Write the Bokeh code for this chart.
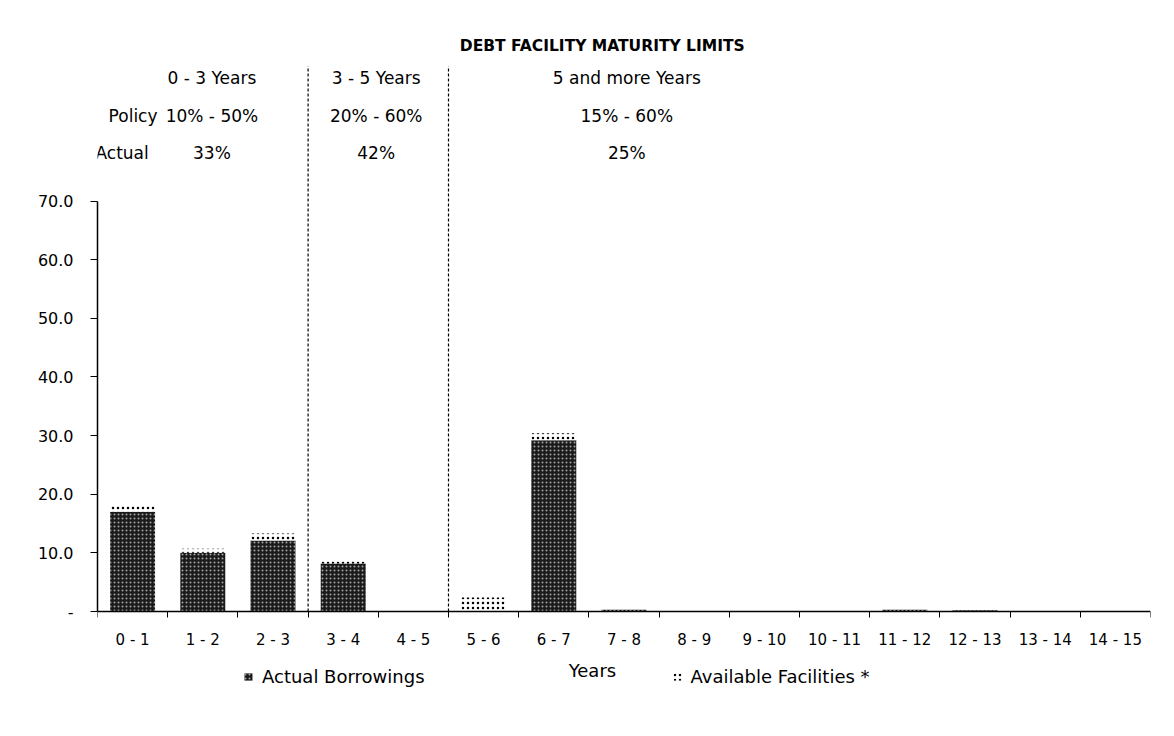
from bokeh.plotting import figure
from bokeh.models import (ColumnDataSource, Range1d, FixedTicker, PrintfTickFormatter,
                          Legend, LegendItem)
from bokeh.core.properties import value
from bokeh.embed import file_html
from bokeh.resources import INLINE

# Maturity buckets (years) and amounts maturing in each
periods = ["0 - 1", "1 - 2", "2 - 3", "3 - 4", "4 - 5", "5 - 6", "6 - 7", "7 - 8",
           "8 - 9", "9 - 10", "10 - 11", "11 - 12", "12 - 13", "13 - 14", "14 - 15"]
actual_borrowings = [17.0, 10.0, 12.1, 8.2, 0.0, 0.0, 29.2, 0.3,
                     0.0, 0.0, 0.0, 0.3, 0.2, 0.0, 0.0]
available_facilities = [1.1, 0.7, 1.2, 0.4, 0.0, 2.4, 1.2, 0.0,
                        0.0, 0.0, 0.0, 0.0, 0.0, 0.0, 0.0]
y_ticks = [0, 10, 20, 30, 40, 50, 60, 70]

# Policy bands shown above the bars
group_bounds = [3, 5]
group_titles = ["0 - 3 Years", "3 - 5 Years", "5 and more Years"]
policy_ranges = ["10% - 50%", "20% - 60%", "15% - 60%"]
actual_shares = ["33%", "42%", "25%"]

FONT = "DejaVu Sans"

centers = [i + 0.5 for i in range(len(periods))]
totals = [a + b for a, b in zip(actual_borrowings, available_facilities)]
src = ColumnDataSource(dict(x=centers, actual=actual_borrowings, total=totals))

p = figure(width=1174, height=736, output_backend="svg", toolbar_location=None,
           x_range=Range1d(0, 15), y_range=Range1d(-13.64, 99.08),
           min_border_left=97, min_border_right=24, min_border_top=30,
           min_border_bottom=45)
p.outline_line_color = None
p.xgrid.visible = False
p.ygrid.visible = False
p.background_fill_color = "white"
p.border_fill_color = "white"

bar_w = 0.64
r_actual = p.vbar(x="x", width=bar_w, bottom=0, top="actual", source=src,
                  fill_color="#1a1a1a", line_color=None,
                  hatch_pattern="dot", hatch_color="white", hatch_scale=4,
                  hatch_weight=0.8, hatch_alpha=0.6)
r_avail = p.vbar(x="x", width=bar_w, bottom="actual", top="total", source=src,
                 fill_color="white", line_color=None,
                 hatch_pattern="dot", hatch_color="black", hatch_scale=5,
                 hatch_weight=1.2)

# dashed separators between the maturity bands
p.segment(x0=group_bounds, y0=[0] * len(group_bounds),
          x1=group_bounds, y1=[93] * len(group_bounds),
          line_color="black", line_width=1.2, line_dash="3 2")

# x axis: ticks on bucket edges, labels on bucket centres
xa = p.xaxis[0]
xa.fixed_location = 0
xa.ticker = FixedTicker(ticks=centers, minor_ticks=list(range(len(periods) + 1)))
xa.major_label_overrides = {c: lab for c, lab in zip(centers, periods)}
xa.major_tick_line_color = None
xa.major_tick_out = 0
xa.major_tick_in = 0
xa.minor_tick_line_color = "black"
xa.minor_tick_out = 6
xa.minor_tick_in = 0
xa.axis_line_color = "black"
xa.axis_line_width = 1.5
xa.major_label_standoff = 13
xa.major_label_text_font = FONT
xa.major_label_text_font_size = "15px"
xa.major_label_text_color = "black"

ya = p.yaxis[0]
ya.ticker = FixedTicker(ticks=y_ticks)
ya.formatter = PrintfTickFormatter(format="%.1f")
ya.major_label_overrides = {0: "-"}
ya.bounds = (0, 70)
ya.minor_tick_line_color = None
ya.major_tick_out = 7
ya.major_tick_in = 0
ya.axis_line_width = 1.5
ya.axis_line_color = "black"
ya.major_label_standoff = 17
ya.major_label_text_font = FONT
ya.major_label_text_font_size = "16px"
ya.major_label_text_color = "black"

# header table
p.text(x=[7.19], y=[96.5], text=["DEBT FACILITY MATURITY LIMITS"],
       text_font=value(FONT), text_font_size="15.5px", text_font_style="bold",
       text_align="center", text_baseline="middle", text_color="black")

band_x = [1.63, 3.97, 7.54]
rows = [(91.06, group_titles), (84.58, policy_ranges), (78.27, actual_shares)]
for y, texts in rows:
    p.text(x=band_x, y=[y] * len(texts), text=texts,
           text_font=value(FONT), text_font_size="17px",
           text_align="center", text_baseline="middle", text_color="black")

p.text(x=[0.855, 0.73], y=[84.58, 78.27], text=["Policy", "Actual"],
       text_font=value(FONT), text_font_size="17px",
       text_align="right", text_baseline="middle", text_color="black")

# axis title
p.text(x=[7.05], y=[-10.06], text=["Years"], text_font=value(FONT),
       text_font_size="18px", text_align="center", text_baseline="middle",
       text_color="black")

legend = Legend(items=[LegendItem(label="Actual Borrowings", renderers=[r_actual]),
                       LegendItem(label="Available Facilities *", renderers=[r_avail])],
                location=(146, 4), orientation="horizontal", spacing=247,
                padding=0, margin=0, border_line_color=None,
                background_fill_alpha=0, glyph_width=10, glyph_height=9,
                label_standoff=9, label_text_font=FONT,
                label_text_font_size="18px", label_text_color="black")
p.add_layout(legend)

open("out.html", "w").write(file_html(p, INLINE))
